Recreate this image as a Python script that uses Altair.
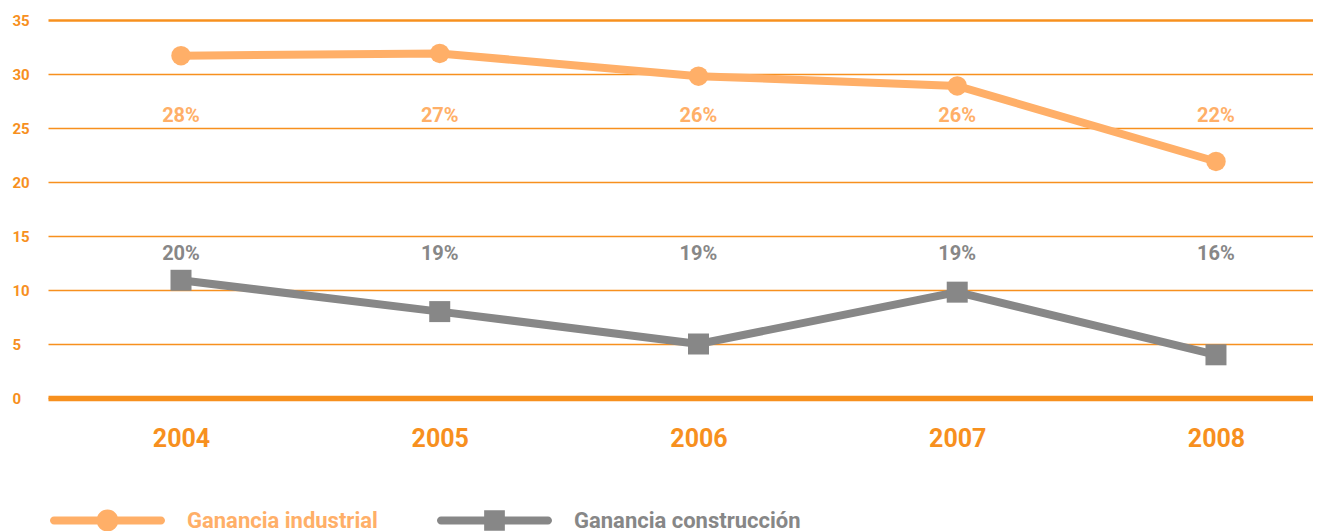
import altair as alt
import pandas as pd

years = [2004, 2005, 2006, 2007, 2008]
series = ["Ganancia industrial", "Ganancia construcción"]
industrial = [31.7, 31.9, 29.8, 28.9, 21.9]
construccion = [10.9, 8.0, 5.0, 9.8, 4.0]
pct_industrial = ["28%", "27%", "26%", "26%", "22%"]
pct_construccion = ["20%", "19%", "19%", "19%", "16%"]
y_ticks = [0, 5, 10, 15, 20, 25, 30, 35]

ORANGE = "#F7901E"
LIGHT = "#FFAF68"
GREY = "#878787"
FONT = "Roboto, sans-serif"

rows = []
for i, y in enumerate(years):
    rows.append({"year": y, "serie": series[0], "value": industrial[i], "pct": pct_industrial[i]})
    rows.append({"year": y, "serie": series[1], "value": construccion[i], "pct": pct_construccion[i]})
df = pd.DataFrame(rows)

xscale = alt.Scale(domain=[2003.486, 2008.375], nice=False, zero=False)
yscale = alt.Scale(domain=[0, 35], nice=False)

x = alt.X("year:Q", scale=xscale, title=None,
          axis=alt.Axis(values=years, format="d", grid=False, ticks=False, tickSize=0,
                        domain=True, domainColor=ORANGE, domainWidth=5.5, domainCap="butt",
                        labelFont=FONT, labelFontSize=25, labelFontWeight="bold",
                        labelColor=ORANGE, labelPadding=28))
y = alt.Y("value:Q", scale=yscale, title=None,
          axis=alt.Axis(values=y_ticks, domain=False, ticks=False, tickSize=0,
                        gridColor=ORANGE,
                        gridWidth=alt.ExprRef("datum.value == 35 ? 2.6 : 1.6"),
                        labelAlign="left", labelPadding=36, labelBaseline="middle",
                        labelFont=FONT, labelFontSize=15,
                        labelFontWeight="bold", labelColor=ORANGE))

circ_path = ("M-0.93,-0.07 L0.93,-0.07 A0.07,0.07 0 0 1 0.93,0.07 L-0.93,0.07 "
             "A0.07,0.07 0 0 1 -0.93,-0.07 Z M-0.19,0 A0.19,0.19 0 1 1 0.19,0 "
             "A0.19,0.19 0 1 1 -0.19,0 Z")
sq_path = ("M-0.93,-0.07 L0.93,-0.07 A0.07,0.07 0 0 1 0.93,0.07 L-0.93,0.07 "
           "A0.07,0.07 0 0 1 -0.93,-0.07 Z M-0.18,-0.18 L0.18,-0.18 L0.18,0.18 L-0.18,0.18 Z")


def make_legend(path, color, lx):
    return alt.Legend(
        title=None, orient="none", direction="horizontal", legendX=lx, legendY=443,
        symbolType=path, symbolSize=13225, symbolStrokeWidth=0, symbolOpacity=1,
        labelOffset=22, labelFont=FONT, labelFontSize=22, labelFontWeight="bold",
        labelColor=color, labelLimit=600, padding=0,
    )


base = alt.Chart(df)

line_ind = base.transform_filter(alt.datum.serie == series[0]).mark_line(
    strokeWidth=8, color=LIGHT).encode(x=x, y=y)
line_con = base.transform_filter(alt.datum.serie == series[1]).mark_line(
    strokeWidth=8, color=GREY).encode(x=x, y=y)

# legend-only layers (no rows drawn); legends come from the explicit scale domains
leg_ind = base.transform_filter("false").mark_point(filled=True, opacity=1).encode(
    x=x, y=y,
    fill=alt.Fill("serie:N", scale=alt.Scale(domain=[series[0]], range=[LIGHT]),
                  legend=make_legend(circ_path, LIGHT, 2)),
)
leg_con = base.transform_filter("false").mark_point(filled=True, opacity=1).encode(
    x=x, y=y,
    color=alt.Color("serie:N", scale=alt.Scale(domain=[series[1]], range=[GREY]),
                    legend=make_legend(sq_path, GREY, 389)),
)

pts_ind = base.transform_filter(alt.datum.serie == series[0]).mark_point(
    shape="circle", filled=True, opacity=1, strokeWidth=0, size=380, color=LIGHT
).encode(x=x, y=y)

pts_con = base.transform_filter(alt.datum.serie == series[1]).mark_point(
    shape="square", filled=True, opacity=1, strokeWidth=0, size=441, color=GREY
).encode(x=x, y=y)

text_ind = base.transform_filter(alt.datum.serie == series[0]).mark_text(
    font=FONT, fontSize=20, fontWeight="bold", color=LIGHT, baseline="middle"
).encode(x=x, y=alt.datum(26.1), text="pct:N")

text_con = base.transform_filter(alt.datum.serie == series[1]).mark_text(
    font=FONT, fontSize=20, fontWeight="bold", color=GREY, baseline="middle"
).encode(x=x, y=alt.datum(13.3), text="pct:N")

chart = alt.layer(line_ind, line_con, leg_ind, leg_con, pts_ind, pts_con,
                  text_ind, text_con).properties(
    width=1265, height=378,
    background="white",
    autosize=alt.AutoSizeParams(type="none"),
    padding={"left": 40, "top": 12, "right": 0, "bottom": 133},
).configure_view(strokeWidth=0).configure_axisY(domain=False)

chart.save("out.html", embed_options={"renderer": "svg", "actions": False})
